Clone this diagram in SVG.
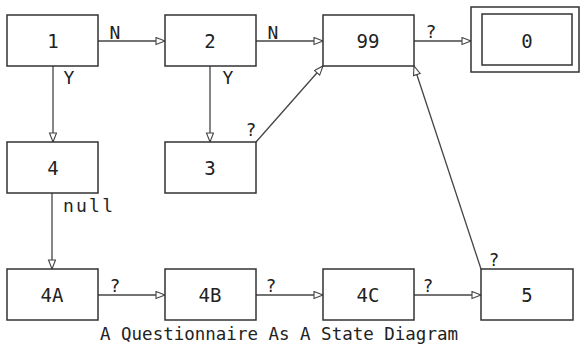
<svg xmlns="http://www.w3.org/2000/svg" width="581" height="345" viewBox="0 0 581 345">
<style>
.box{fill:#fff;stroke:#333;stroke-width:1.5}
.nt{font-family:"DejaVu Sans Mono","Liberation Mono",monospace;font-size:19px;fill:#222;text-anchor:middle}
.lb{font-family:"DejaVu Sans Mono","Liberation Mono",monospace;font-size:18px;fill:#222;text-anchor:middle}
.ln{fill:none;stroke:#444;stroke-width:1.3;marker-end:url(#ah)}
.ti{font-family:"DejaVu Sans Mono","Liberation Mono",monospace;font-size:17px;fill:#222}
</style>
<defs>
<marker id="ah" markerUnits="userSpaceOnUse" markerWidth="12" markerHeight="10" refX="10" refY="4" orient="auto">
<path d="M1,0.5 L10,4 L1,7.5 Z" fill="#fff" stroke="#444" stroke-width="1.1"/>
</marker>
</defs>
<rect width="581" height="345" fill="#fff"/>
<g id="connectors">
<line class="ln" x1="98" y1="41" x2="165" y2="41"/>
<line class="ln" x1="256" y1="41" x2="323" y2="41"/>
<line class="ln" x1="414" y1="41" x2="471" y2="41"/>
<line class="ln" x1="53" y1="66" x2="53" y2="142"/>
<line class="ln" x1="210" y1="66" x2="210" y2="142"/>
<line class="ln" x1="256" y1="142" x2="323" y2="66"/>
<line class="ln" x1="52" y1="193" x2="52" y2="269"/>
<line class="ln" x1="98" y1="295" x2="165" y2="295"/>
<line class="ln" x1="256" y1="295" x2="323" y2="295"/>
<line class="ln" x1="414" y1="295" x2="481" y2="295"/>
<line class="ln" x1="481" y1="269" x2="414" y2="66"/>
<text class="lb" x="115" y="39">N</text>
<text class="lb" x="273" y="39">N</text>
<text class="lb" x="431" y="38">?</text>
<text class="lb" x="69" y="84">Y</text>
<text class="lb" x="228" y="84">Y</text>
<text class="lb" x="251" y="136">?</text>
<text class="lb" x="63" y="212" text-anchor="start" textLength="50" lengthAdjust="spacing" style="text-anchor:start">null</text>
<text class="lb" x="115" y="292">?</text>
<text class="lb" x="271" y="292">?</text>
<text class="lb" x="428" y="292">?</text>
<text class="lb" x="494" y="266">?</text>
</g>
<g id="n1"><rect class="box" x="7" y="15" width="91" height="51"/><text class="nt" x="53" y="48">1</text></g>
<g id="n2"><rect class="box" x="165" y="15" width="91" height="51"/><text class="nt" x="210" y="48">2</text></g>
<g id="n99"><rect class="box" x="323" y="15" width="91" height="51"/><text class="nt" x="368" y="48">99</text></g>
<g id="n0"><rect class="box" x="471" y="7" width="108" height="65"/><rect class="box" x="482" y="14" width="90" height="51"/><text class="nt" x="527" y="48">0</text></g>
<g id="n4"><rect class="box" x="7" y="142" width="91" height="51"/><text class="nt" x="53" y="175">4</text></g>
<g id="n3"><rect class="box" x="165" y="142" width="91" height="51"/><text class="nt" x="210" y="175">3</text></g>
<g id="n4A"><rect class="box" x="7" y="269" width="91" height="51"/><text class="nt" x="52" y="302">4A</text></g>
<g id="n4B"><rect class="box" x="165" y="269" width="91" height="51"/><text class="nt" x="210" y="302">4B</text></g>
<g id="n4C"><rect class="box" x="323" y="269" width="91" height="51"/><text class="nt" x="368" y="302">4C</text></g>
<g id="n5"><rect class="box" x="481" y="269" width="92" height="51"/><text class="nt" x="527" y="302">5</text></g>
<text class="ti" x="100" y="340" textLength="358" lengthAdjust="spacingAndGlyphs">A Questionnaire As A State Diagram</text>
</svg>
